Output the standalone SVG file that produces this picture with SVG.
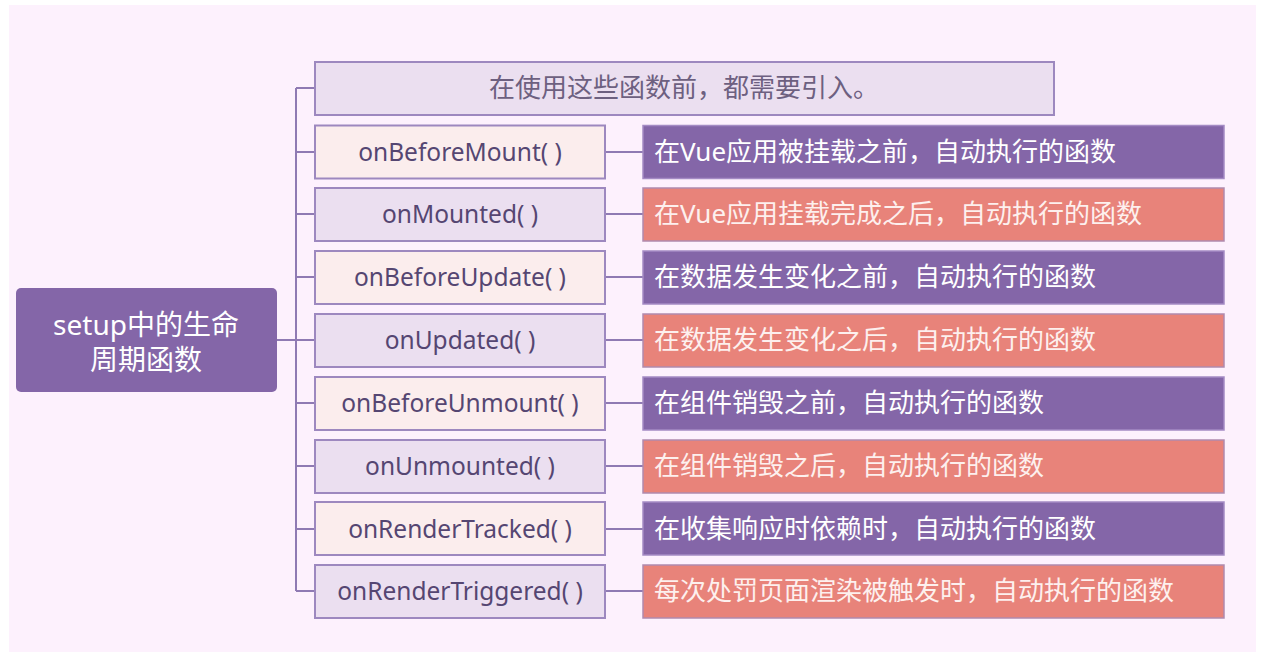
<svg xmlns="http://www.w3.org/2000/svg" width="1264" height="652" viewBox="0 0 1264 652">
<style>
.bg{fill:#fdf1fd}
.root{fill:#8466a8}
.rt{fill:#ffffff;font-family:"Noto Sans","Noto Sans CJK SC",sans-serif;font-size:28px;text-anchor:middle}
.lb{stroke:#9d88bf;stroke-width:2}
.peach{fill:#fbeded}
.lav{fill:#ebdff0}
.lt{fill:#554672;font-family:"Noto Sans","Noto Sans CJK SC",sans-serif;font-size:24.5px;text-anchor:middle}
.tt{fill:#6d6080;font-family:"Noto Sans CJK SC",sans-serif;font-size:26px;text-anchor:middle}
.purple{fill:#8466a8;stroke:#a48bc4;stroke-width:1.5}
.salmon{fill:#e8837a;stroke:#b08aae;stroke-width:1.5}
.dt{fill:#ffffff;font-family:"Noto Sans","Noto Sans CJK SC",sans-serif;font-size:26px}
.dt2{fill:#fdf0ee;font-family:"Noto Sans","Noto Sans CJK SC",sans-serif;font-size:26px}
.con{stroke:#8f7ab3;stroke-width:2;fill:none}
</style>
<rect x="0" y="0" width="1264" height="652" fill="#ffffff"/>
<rect class="bg" x="9" y="5" width="1247" height="647"/>
<g id="connectors">
<path class="con" d="M277,340 H296 M296,88 V591 M296,88 H315 M296,152 H315 M296,214 H315 M296,277 H315 M296,340 H315 M296,403 H315 M296,466 H315 M296,529 H315 M296,591 H315"/>
<path class="con" d="M605,152 H643 M605,214 H643 M605,277 H643 M605,340 H643 M605,403 H643 M605,466 H643 M605,529 H643 M605,591 H643"/>
</g>
<g id="root">
<rect class="root" x="16" y="288" width="261" height="104" rx="5"/>
<text class="rt" x="146" y="335">setup中的生命</text>
<text class="rt" x="146" y="370">周期函数</text>
</g>
<g id="note">
<rect class="lb lav" x="315" y="62" width="739" height="53"/>
<text class="tt" x="684" y="97">在使用这些函数前，都需要引入。</text>
</g>
<g id="n1"><rect class="lb peach" x="315" y="125.5" width="290" height="53"/><text class="lt" x="460" y="161">onBeforeMount( )</text></g>
<g id="n2"><rect class="lb lav" x="315" y="188" width="290" height="53"/><text class="lt" x="460" y="223">onMounted( )</text></g>
<g id="n3"><rect class="lb peach" x="315" y="251" width="290" height="53"/><text class="lt" x="460" y="286">onBeforeUpdate( )</text></g>
<g id="n4"><rect class="lb lav" x="315" y="314" width="290" height="53"/><text class="lt" x="460" y="349">onUpdated( )</text></g>
<g id="n5"><rect class="lb peach" x="315" y="377" width="290" height="53"/><text class="lt" x="460" y="412">onBeforeUnmount( )</text></g>
<g id="n6"><rect class="lb lav" x="315" y="440" width="290" height="53"/><text class="lt" x="460" y="475">onUnmounted( )</text></g>
<g id="n7"><rect class="lb peach" x="315" y="502" width="290" height="53"/><text class="lt" x="460" y="538">onRenderTracked( )</text></g>
<g id="n8"><rect class="lb lav" x="315" y="565" width="290" height="53"/><text class="lt" x="460" y="600">onRenderTriggered( )</text></g>
<g id="d1"><rect class="purple" x="643" y="125.5" width="581" height="53"/><text class="dt" x="654" y="161">在Vue应用被挂载之前，自动执行的函数</text></g>
<g id="d2"><rect class="salmon" x="643" y="188" width="581" height="53"/><text class="dt2" x="654" y="223">在Vue应用挂载完成之后，自动执行的函数</text></g>
<g id="d3"><rect class="purple" x="643" y="251" width="581" height="53"/><text class="dt" x="654" y="286">在数据发生变化之前，自动执行的函数</text></g>
<g id="d4"><rect class="salmon" x="643" y="314" width="581" height="53"/><text class="dt2" x="654" y="349">在数据发生变化之后，自动执行的函数</text></g>
<g id="d5"><rect class="purple" x="643" y="377" width="581" height="53"/><text class="dt" x="654" y="412">在组件销毁之前，自动执行的函数</text></g>
<g id="d6"><rect class="salmon" x="643" y="440" width="581" height="53"/><text class="dt2" x="654" y="475">在组件销毁之后，自动执行的函数</text></g>
<g id="d7"><rect class="purple" x="643" y="502" width="581" height="53"/><text class="dt" x="654" y="538">在收集响应时依赖时，自动执行的函数</text></g>
<g id="d8"><rect class="salmon" x="643" y="565" width="581" height="53"/><text class="dt2" x="654" y="600">每次处罚页面渲染被触发时，自动执行的函数</text></g>
</svg>
